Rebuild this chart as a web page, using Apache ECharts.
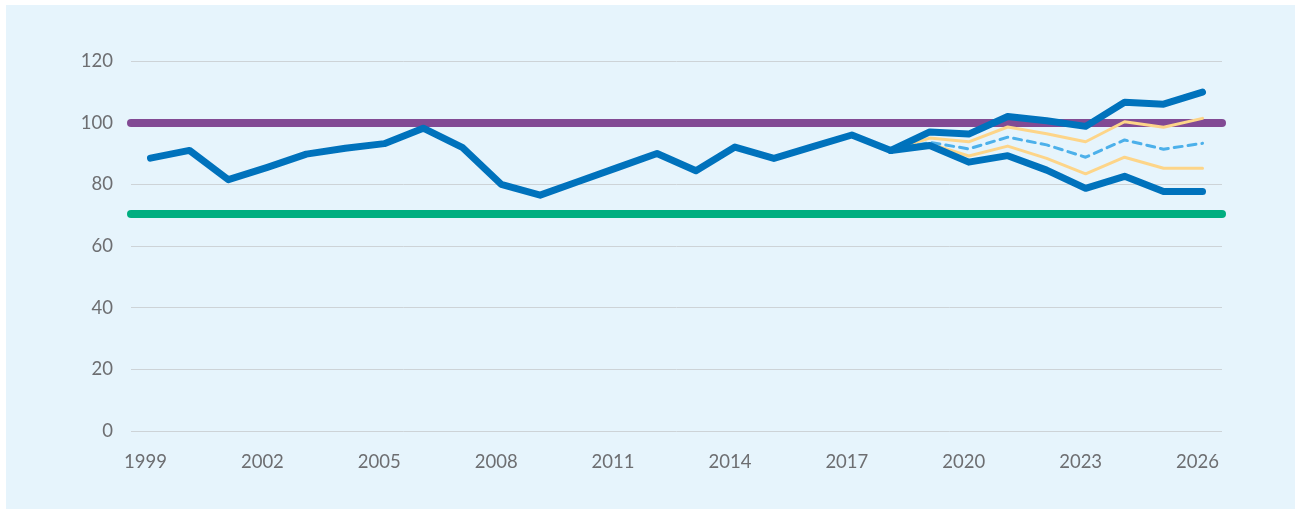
<!DOCTYPE html>
<html>
<head>
<meta charset="utf-8">
<script src="https://cdn.jsdelivr.net/npm/echarts@6/dist/echarts.min.js"></script>
<style>
  html, body { margin: 0; padding: 0; background: #ffffff; }
  #chart { position: absolute; left: 6px; top: 5px; width: 1289px; height: 504px; background: #e6f4fc; }
</style>
</head>
<body>
<div id="chart"></div>
<script>
const years = ['1999','2000','2001','2002','2003','2004','2005','2006','2007','2008','2009','2010','2011','2012','2013','2014','2015','2016','2017','2018','2019','2020','2021','2022','2023','2024','2025','2026'];
const history = [88.5, 91, 81.5, 85.5, 89.8, 91.7, 93.2, 98.2, 92, 80, 76.5, 81, 85.5, 90, 84.4, 92.1, 88.4, 92.2, 96, 91, null, null, null, null, null, null, null, null];
const upperThick = [null,null,null,null,null,null,null,null,null,null,null,null,null,null,null,null,null,null,null, 91, 97, 96.3, 102, 100.6, 98.8, 106.6, 106, 109.9];
const lowerThick = [null,null,null,null,null,null,null,null,null,null,null,null,null,null,null,null,null,null,null, 91, 92.6, 87.2, 89.3, 84.6, 78.7, 82.6, 77.7, 77.7];
const upperBand = [null,null,null,null,null,null,null,null,null,null,null,null,null,null,null,null,null,null,null, 91, 95, 93.8, 98.6, 96.4, 93.8, 100.3, 98.5, 101.4];
const lowerBand = [null,null,null,null,null,null,null,null,null,null,null,null,null,null,null,null,null,null,null, 91, 93.2, 89.2, 92.4, 88.4, 83.4, 88.8, 85.2, 85.2];
const central = [null,null,null,null,null,null,null,null,null,null,null,null,null,null,null,null,null,null,null, 91, 93.6, 91.5, 95.3, 92.8, 88.8, 94.4, 91.4, 93.3];
const upperRef = 100;
const lowerRef = 70.5;
const yTicks = {min: 0, max: 120, interval: 20};

const chart = echarts.init(document.getElementById('chart'));
const font = 'Lato, "Noto Sans", sans-serif';
function lineSeries(data, color, width, type, z) {
  return {
    type: 'line', data: data, symbol: 'none', connectNulls: false, silent: true, z: z,
    lineStyle: {color: color, width: width, type: type, cap: 'round', join: 'round'},
    emphasis: {disabled: true}, animation: false
  };
}
function refLine(value, color) {
  return {
    type: 'line', data: [], symbol: 'none', silent: true, z: 1, animation: false,
    markLine: {
      silent: true, symbol: ['none', 'none'], animation: false, z: 1,
      label: {show: false},
      lineStyle: {color: color, width: 8, type: 'solid', cap: 'round'},
      emphasis: {disabled: true},
      data: [{yAxis: value}]
    }
  };
}
chart.setOption({
  animation: false,
  grid: {left: 125, top: 56, width: 1091, height: 370, containLabel: false},
  xAxis: {
    type: 'category', data: years, boundaryGap: true,
    axisLine: {show: false}, axisTick: {show: false},
    axisLabel: {interval: 2, color: '#6d6e71', fontSize: 18.5, fontFamily: font, margin: 22, padding: [0, 10, 0, 0]}
  },
  yAxis: {
    type: 'value', min: yTicks.min, max: yTicks.max, interval: yTicks.interval,
    axisLine: {show: false}, axisTick: {show: false},
    axisLabel: {color: '#6d6e71', fontSize: 18.5, fontFamily: font, margin: 18},
    splitLine: {lineStyle: {color: '#cdd3d7', width: 1}}
  },
  series: [
    refLine(upperRef, '#824a94'),
    refLine(lowerRef, '#00ae80'),
    lineSeries(upperBand, '#fdd589', 3, 'solid', 3),
    lineSeries(lowerBand, '#fdd589', 3, 'solid', 3),
    lineSeries(central, '#4cb0ea', 3, [8, 6], 4),
    lineSeries(upperThick, '#0072bc', 7, 'solid', 5),
    lineSeries(lowerThick, '#0072bc', 7, 'solid', 5),
    lineSeries(history, '#0072bc', 7, 'solid', 6)
  ]
});
</script>
</body>
</html>
